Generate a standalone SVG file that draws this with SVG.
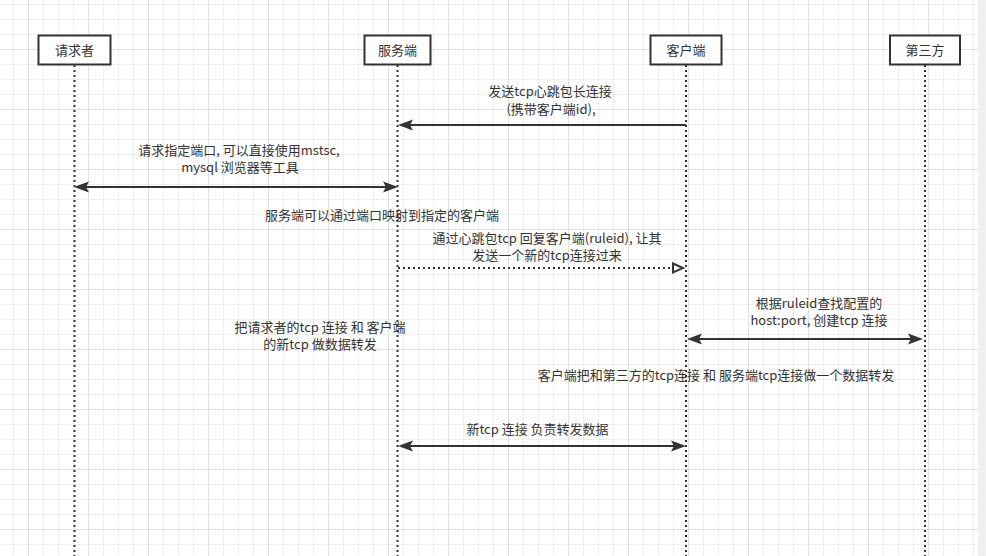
<svg xmlns="http://www.w3.org/2000/svg" width="986" height="556" viewBox="0 0 986 556">
  <style>
    .box { fill: #ffffff; stroke: #333333; stroke-width: 2; }
    .life { stroke: #333333; stroke-width: 2; stroke-dasharray: 2 3; fill: none; }
    .msg { stroke: #333333; stroke-width: 2; fill: none; }
    .dot { stroke: #333333; stroke-width: 2; stroke-dasharray: 2 3; fill: none; }
    text { font-family: "Noto Sans CJK SC", "Noto Sans", sans-serif; font-size: 13px; fill: #333333; text-anchor: middle; }
  </style>
  <defs>
    <pattern id="grid" x="28" y="49" width="60" height="60" patternUnits="userSpaceOnUse">
      <path d="M15.5 0V60M30.5 0V60M45.5 0V60M0 15.5H60M0 30.5H60M0 45.5H60" stroke="#efefef" stroke-width="1" fill="none"/>
      <path d="M0.5 0V60M0 0.5H60" stroke="#e1e1e1" stroke-width="1" fill="none"/>
    </pattern>
    <marker id="arr" markerUnits="userSpaceOnUse" markerWidth="16" markerHeight="12" viewBox="0 0 16 12" refX="12" refY="6" orient="auto-start-reverse">
      <path d="M0,0.5 L15,6 L0,11.5 L3,6 Z" fill="#333333"/>
    </marker>
    <marker id="open" markerUnits="userSpaceOnUse" markerWidth="16" markerHeight="14" viewBox="0 0 16 14" refX="2" refY="7" orient="auto">
      <path d="M2,2.5 L12,7 L2,11.5 Z" fill="#ffffff" stroke="#333333" stroke-width="2" stroke-linejoin="miter"/>
    </marker>
  </defs>

  <rect x="0" y="0" width="986" height="556" fill="#ffffff"/>
  <rect x="0" y="0" width="986" height="556" fill="url(#grid)"/>
  <rect x="978" y="0" width="8" height="556" fill="#f0f0f0"/>

  <g id="lifelines">
    <line class="life" x1="74.5" y1="65" x2="74.5" y2="556"/>
    <line class="life" x1="397.5" y1="65" x2="397.5" y2="556"/>
    <line class="life" x1="686" y1="65" x2="686" y2="556"/>
    <line class="life" x1="925" y1="65" x2="925" y2="556"/>
  </g>

  <g id="node-requester">
    <rect class="box" x="38.5" y="35.5" width="72" height="29"/>
    <text x="74.5" y="54.7">请求者</text>
  </g>
  <g id="node-server">
    <rect class="box" x="364.5" y="35.5" width="66" height="29"/>
    <text x="397.5" y="54.7">服务端</text>
  </g>
  <g id="node-client">
    <rect class="box" x="650.5" y="35.5" width="71" height="29"/>
    <text x="686" y="54.7">客户端</text>
  </g>
  <g id="node-third">
    <rect class="box" x="890" y="35.5" width="70" height="29"/>
    <text x="925" y="54.7">第三方</text>
  </g>

  <g id="connectors">
    <line class="msg" x1="686" y1="125" x2="401" y2="125" marker-end="url(#arr)"/>
    <line class="msg" x1="77" y1="187" x2="395" y2="187" marker-start="url(#arr)" marker-end="url(#arr)"/>
    <line class="dot" x1="398" y1="268" x2="673" y2="268" marker-end="url(#open)"/>
    <line class="msg" x1="690" y1="339" x2="920" y2="339" marker-start="url(#arr)" marker-end="url(#arr)"/>
    <line class="msg" x1="401" y1="446" x2="683" y2="446" marker-start="url(#arr)" marker-end="url(#arr)"/>
  </g>

  <g id="labels">
    <text x="550" y="95.5">发送tcp心跳包长连接</text>
    <text x="551" y="113.5">(携带客户端id),</text>
    <text x="239" y="154.5">请求指定端口, 可以直接使用mstsc,</text>
    <text x="240" y="171.7">mysql 浏览器等工具</text>
    <text x="382" y="220">服务端可以通过端口映射到指定的客户端</text>
    <text x="547" y="242.5">通过心跳包tcp 回复客户端(ruleid), 让其</text>
    <text x="547" y="259.7">发送一个新的tcp连接过来</text>
    <text x="819" y="307.5">根据ruleid查找配置的</text>
    <text x="819" y="324.7">host:port, 创建tcp 连接</text>
    <text x="320" y="332">把请求者的tcp 连接 和 客户端</text>
    <text x="320" y="349.2">的新tcp 做数据转发</text>
    <text x="716" y="379.7">客户端把和第三方的tcp连接 和 服务端tcp连接做一个数据转发</text>
    <text x="537.5" y="434.4">新tcp 连接 负责转发数据</text>
  </g>
</svg>
